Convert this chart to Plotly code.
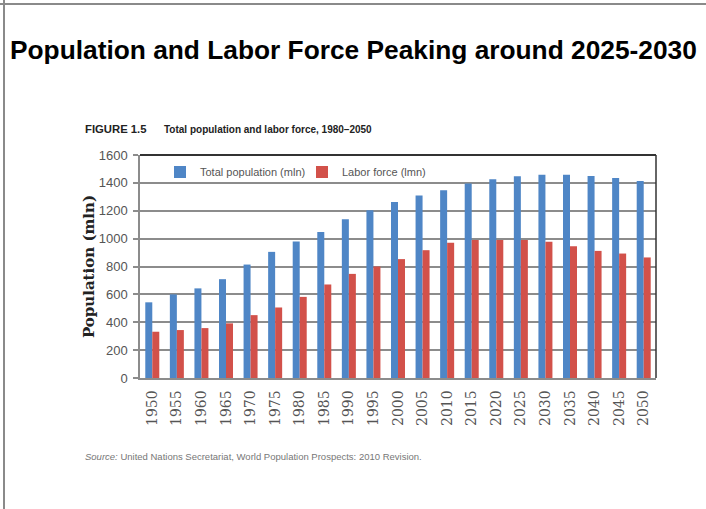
import plotly.graph_objects as go

years = ["1950", "1955", "1960", "1965", "1970", "1975", "1980", "1985", "1990", "1995", "2000",
         "2005", "2010", "2015", "2020", "2025", "2030", "2035", "2040", "2045", "2050"]
total_population = [543, 600, 643, 709, 814, 905, 980, 1048, 1139, 1204, 1263,
                    1309, 1347, 1395, 1426, 1447, 1459, 1459, 1450, 1435, 1414]
labor_force = [332, 344, 358, 392, 451, 506, 582, 671, 747, 800, 853,
               917, 970, 990, 990, 990, 977, 946, 912, 893, 865]

W, H = 706, 509
L, R, T, B = 140, 656, 155, 378


def px(x):
    return (x - L) / (R - L)


def py(y):
    return (B - y) / (B - T)


fig = go.Figure()
fig.add_trace(go.Bar(x=years, y=total_population, name="Total population (mln)",
                     marker=dict(color="#4F86C6", line=dict(width=0))))
fig.add_trace(go.Bar(x=years, y=labor_force, name="Labor force (lmn)",
                     marker=dict(color="#D2514A", line=dict(width=0))))

fig.update_layout(
    width=W, height=H,
    margin=dict(l=L, r=W - R, t=T, b=H - B, pad=0),
    paper_bgcolor="white", plot_bgcolor="white",
    barmode="group", bargap=0.43, bargroupgap=0,
    showlegend=True,
    legend=dict(orientation="h", x=px(160), y=py(172), xanchor="left", yanchor="middle",
                font=dict(family="Liberation Sans, Arial, sans-serif", size=11, color="#555555"),
                bgcolor="rgba(0,0,0,0)", entrywidth=97, entrywidthmode="pixels",
                itemwidth=30, tracegroupgap=0),
    xaxis=dict(
        type="category", showgrid=False, zeroline=False,
        showline=True, linecolor="#8c8c8c", linewidth=1.5,
        tickangle=-90, ticks="", ticklabelstandoff=5,
        tickfont=dict(family="DejaVu Serif, serif", size=14, color="#555555"),
    ),
    yaxis=dict(
        range=[0, 1600], dtick=200, tick0=0,
        showgrid=True, gridcolor="#8c8c8c", gridwidth=1.5,
        zeroline=False, showline=True, linecolor="#8c8c8c", linewidth=1.5,
        ticks="outside", ticklen=5, tickcolor="#8c8c8c", tickwidth=1.5,
        ticklabelstandoff=3,
        tickfont=dict(family="Liberation Sans, Arial, sans-serif", size=13, color="#555555"),
        title=dict(text="Population (mln)", standoff=0,
                   font=dict(family="DejaVu Serif, serif", size=15, color="#222222", weight="bold")),
    ),
    font=dict(family="Liberation Sans, Arial, sans-serif"),
)

# plot frame: dark top and right edges
fig.add_shape(type="line", xref="paper", yref="paper", x0=0, x1=1, y0=1, y1=1,
              line=dict(color="#333333", width=2.2))
fig.add_shape(type="line", xref="paper", yref="paper", x0=1, x1=1, y0=0, y1=1,
              line=dict(color="#333333", width=1.5))

# slide border lines (top and left)
fig.add_shape(type="line", xref="paper", yref="paper", x0=px(0), x1=px(W), y0=py(4), y1=py(4),
              line=dict(color="#8a8a8a", width=2))
fig.add_shape(type="line", xref="paper", yref="paper", x0=px(4), x1=px(4), y0=py(0), y1=py(H),
              line=dict(color="#8a8a8a", width=2))

fig.add_annotation(text="<b>Population and Labor Force Peaking around 2025-2030</b>",
                   xref="paper", yref="paper", x=px(8), y=py(50), xanchor="left", yanchor="middle",
                   showarrow=False,
                   font=dict(family="Liberation Sans, Arial, sans-serif", size=26.3, color="#000000"))

fig.add_annotation(text="<b>FIGURE 1.5</b>",
                   xref="paper", yref="paper", x=px(83), y=py(129), xanchor="left", yanchor="middle",
                   showarrow=False,
                   font=dict(family="Liberation Sans, Arial, sans-serif", size=11.3, color="#222222"))
fig.add_annotation(text="<b>Total population and labor force, 1980–2050</b>",
                   xref="paper", yref="paper", x=px(162), y=py(129), xanchor="left", yanchor="middle",
                   showarrow=False,
                   font=dict(family="Liberation Sans, Arial, sans-serif", size=10, color="#222222"))

fig.add_annotation(text="<i>Source:</i> United Nations Secretariat, World Population Prospects: 2010 Revision.",
                   xref="paper", yref="paper", x=px(83), y=py(456), xanchor="left", yanchor="middle",
                   showarrow=False,
                   font=dict(family="Liberation Sans, Arial, sans-serif", size=9.5, color="#777777"))

fig.write_html("out.html", config={"displayModeBar": False},
               post_script="document.body.style.margin='0';")
